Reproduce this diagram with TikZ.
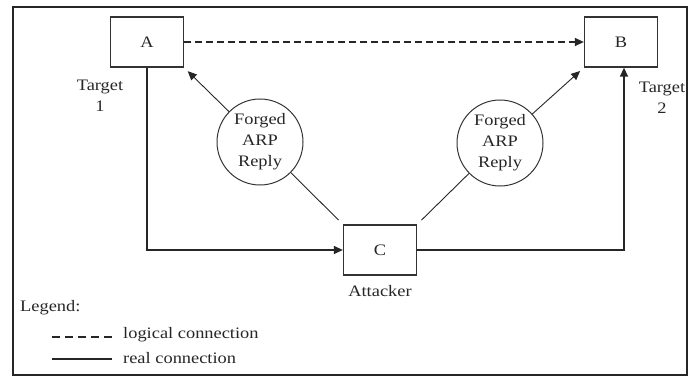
\documentclass[tikz,border=0pt]{standalone}
\usepackage{fontspec}
\setmainfont[FakeStretch=1.15]{Liberation Serif}
\usetikzlibrary{arrows.meta}
\begin{document}
\begin{tikzpicture}[x=1pt,y=-1pt,
  font=\fontsize{16}{19}\selectfont,
  text=black!85,
  box/.style={draw=black!80,line width=1.3pt,minimum width=73pt,minimum height=50pt,inner sep=0pt},
  forged/.style={draw=black!80,line width=1pt,circle,minimum size=86pt,inner sep=0pt,align=center,font=\fontsize{16}{21}\selectfont},
  lbl/.style={align=center,inner sep=0pt},
  conn/.style={draw=black!85,line width=1.3pt},
  arr/.style={conn,-{Triangle[length=9pt,width=8pt]}},
  thin/.style={draw=black!85,line width=0.9pt},
  dsh/.style={conn,dash pattern=on 7pt off 4pt}]
\useasboundingbox (0,0) rectangle (688,377);
\draw[draw=black!85,line width=1.6pt] (13,7) rectangle (687,375);
\node[box] (A) at (147,42) {A};
\node[box] (B) at (621,42) {B};
\node[box] (C) at (380,250) {C};
\node[forged] (f1) at (260,142) {Forged\\ARP\\Reply};
\node[forged] (f2) at (500,143) {Forged\\ARP\\Reply};
\node[lbl,font=\fontsize{16}{21}\selectfont] (t1) at (100,96) {Target\\1};
\node[lbl,font=\fontsize{16}{21}\selectfont] (t2) at (662,98) {Target\\2};
\node[lbl] (att) at (380,291) {Attacker};
\draw[dsh,-{Triangle[length=9pt,width=8pt]}] (A.east) -- (B.west);
\draw[arr] (A.south) |- (C.west);
\draw[arr] (C.east) -| ([xshift=3pt]B.south);
\draw[thin,-{Triangle[length=9pt,width=8pt]},shorten >=5pt] (f1) -- (A.south east);
\draw[thin,-{Triangle[length=9pt,width=8pt]},shorten >=5pt] (f2) -- (B.south west);
\draw[thin,shorten >=6pt] (f1) -- (C.north west);
\draw[thin,shorten >=6pt] (f2) -- (C.north east);
\node[anchor=west,inner sep=0pt] (leg) at (20,308) {Legend:};
\coordinate (l1a) at (52,337);
\coordinate (l1b) at (112,337);
\coordinate (l2a) at (52,359);
\coordinate (l2b) at (112,359);
\draw[conn,dash pattern=on 8pt off 5pt] (l1a) -- (l1b);
\draw[conn] (l2a) -- (l2b);
\node[anchor=west,inner sep=0pt] (lg) at (123,335) {logical connection};
\node[anchor=west,inner sep=0pt] (rl) at (123,358) {real connection};
\end{tikzpicture}
\end{document}
